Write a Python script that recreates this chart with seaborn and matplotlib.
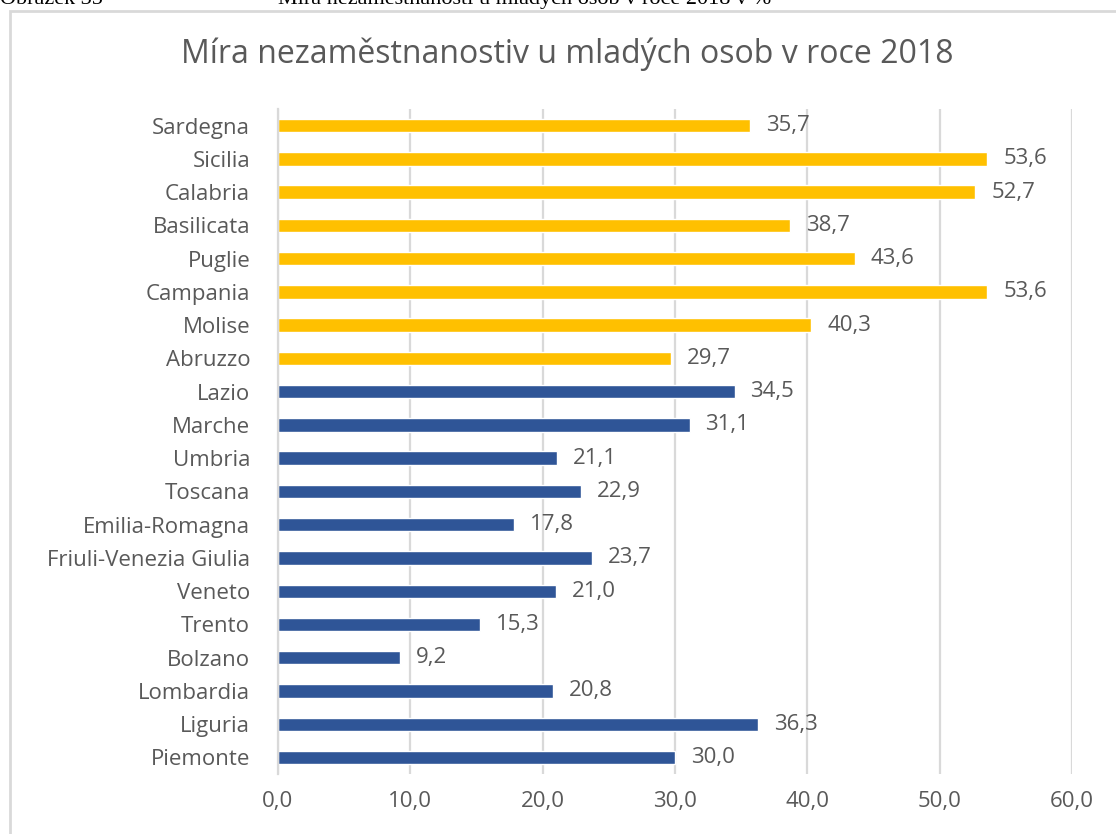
import matplotlib
matplotlib.use("Agg")
import matplotlib.pyplot as plt
from matplotlib.patches import Rectangle
import seaborn as sns
import pandas as pd

regions = ["Sardegna", "Sicilia", "Calabria", "Basilicata", "Puglie", "Campania",
           "Molise", "Abruzzo", "Lazio", "Marche", "Umbria", "Toscana",
           "Emilia-Romagna", "Friuli-Venezia Giulia", "Veneto", "Trento",
           "Bolzano", "Lombardia", "Liguria", "Piemonte"]
rates = [35.7, 53.6, 52.7, 38.7, 43.6, 53.6, 40.3, 29.7, 34.5, 31.1, 21.1, 22.9,
         17.8, 23.7, 21.0, 15.3, 9.2, 20.8, 36.3, 30.0]
groups = ["jih"] * 8 + ["sever"] * 12
group_colors = {"jih": "#FFC000", "sever": "#2F5597"}
x_ticks = [0, 10, 20, 30, 40, 50, 60]

df = pd.DataFrame({"region": regions, "rate": rates, "group": groups})

sns.set_theme(style="white")
plt.rcParams["font.family"] = ["Open Sans", "DejaVu Sans"]
text_color = "#595959"
label_size = 16

fig = plt.figure(figsize=(11.16, 8.34), dpi=100)
ax = fig.add_axes([0.2491, 0.0719, 0.7115, 0.7974])

sns.barplot(data=df, y="region", x="rate", hue="group", palette=group_colors,
            saturation=1, dodge=False, width=0.4, orient="h", legend=False,
            ax=ax, order=regions)

ax.set_xlim(0, 60)
ax.set_ylim(len(regions) - 0.5, -0.5)
ax.set_xticks(x_ticks)
ax.set_xticklabels([f"{t:.1f}".replace(".", ",") for t in x_ticks],
                   fontsize=label_size, color=text_color)
ax.tick_params(axis="x", pad=12, length=0)
ax.tick_params(axis="y", pad=20, length=0, labelsize=label_size,
               labelcolor=text_color)
ax.set_xlabel("")
ax.set_ylabel("")
ax.grid(axis="x", color="#D9D9D9", linewidth=1.6)
ax.set_axisbelow(True)
for side in ["top", "right", "bottom"]:
    ax.spines[side].set_visible(False)
ax.spines["left"].set_color("#D9D9D9")
ax.spines["left"].set_linewidth(1.6)

for i, v in enumerate(rates):
    ax.text(v + 1.2, i, f"{v:.1f}".replace(".", ","), va="center", ha="left",
            fontsize=label_size, color=text_color)

fig.text(0.508, 0.935, "Míra nezaměstnanostiv u mladých osob v roce 2018",
         ha="center", va="center", fontsize=23, color=text_color)

# chart frame and caption above it
fig.patches.append(Rectangle((10 / 1116, -0.01), 1.2, 1 - 11 / 834 + 0.01,
                             transform=fig.transFigure, fill=False,
                             edgecolor="#D9D9D9", linewidth=2))
fig.text(0.0, 1 - 4 / 834, "Obrázek 35", ha="left", va="baseline",
         fontsize=16, family="Liberation Serif", color="black")
fig.text(278 / 1116, 1 - 4 / 834,
         "Míra nezaměstnanosti u mladých osob v roce 2018 v %",
         ha="left", va="baseline", fontsize=16, family="Liberation Serif",
         color="black")

fig.savefig("out.png", dpi=100)
